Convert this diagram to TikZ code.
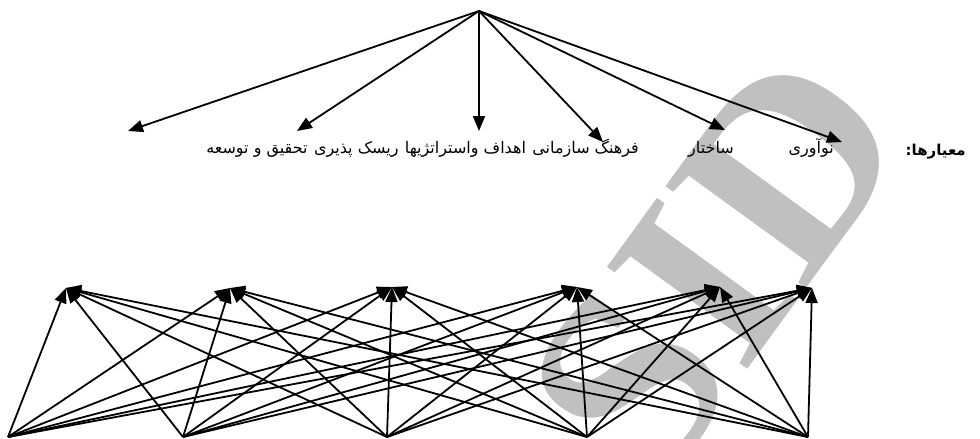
\documentclass[tikz,border=0pt]{standalone}
\usepackage{fontspec}
\setmainfont{Liberation Serif}
\newfontfamily\arabicfont[Script=Arabic]{DejaVu Sans}
\TeXXeTstate=1
\usetikzlibrary{arrows.meta}
\definecolor{wmgray}{RGB}{192,192,192}
\begin{document}
\begin{tikzpicture}[x=1pt,y=-1pt,
  link/.style={line width=1.8pt,-{Triangle[length=15pt,width=12pt]}},
  lbl/.style={inner sep=0pt,anchor=base east,font=\arabicfont\fontsize{16}{18}\selectfont},
  wm/.style={text=wmgray,font=\bfseries\fontsize{265}{265}\selectfont,inner sep=0pt}]
\useasboundingbox (0,0) rectangle (980,439);
% watermark
\node[wm,rotate=54] (wmk) at (716,266) {SID};
% apex and criteria targets
\coordinate (apex) at (479,11);
\coordinate (t1) at (128,131);
\coordinate (t2) at (297,131);
\coordinate (t3) at (479,131);
\coordinate (t4) at (603,142);
\coordinate (t5) at (725,130);
\coordinate (t6) at (842,142);
\foreach \t in {t1,t2,t3,t4,t5,t6}{\draw[link] (apex) -- (\t);}
% labels (right to left)
\node[lbl] (l6) at (834,153) {\beginR نوآوری\endR};
\node[lbl] (l5) at (734,153) {\beginR ساختار\endR};
\node[lbl] (l4) at (639,153) {\beginR فرهنگ سازمانی\endR};
\node[lbl] (l3) at ([xshift=-6pt]l4.base west) {\beginR اهداف واستراتژیها\endR};
\node[lbl] (l2) at ([xshift=-6pt]l3.base west) {\beginR ریسک پذیری\endR};
\node[lbl] (l1) at ([xshift=-6pt]l2.base west) {\beginR تحقیق و توسعه\endR};
\node[lbl,font=\arabicfont\bfseries\fontsize{15}{17}\selectfont] (lm) at (966,155) {\beginR معیارها:\endR};
% bottom network
\coordinate (b1) at (8,437);
\coordinate (b2) at (183,437);
\coordinate (b3) at (387,437);
\coordinate (b4) at (587,437);
\coordinate (b5) at (808,437);
\coordinate (u1) at (66,288);
\coordinate (u2) at (230,288);
\coordinate (u3) at (392,287);
\coordinate (u4) at (577,287);
\coordinate (u5) at (720,287);
\coordinate (u6) at (812,288);
\foreach \b in {b1,b2,b3,b4,b5}{
  \foreach \u in {u1,u2,u3,u4,u5,u6}{\draw[link] (\b) -- (\u);}}
\end{tikzpicture}
\end{document}
